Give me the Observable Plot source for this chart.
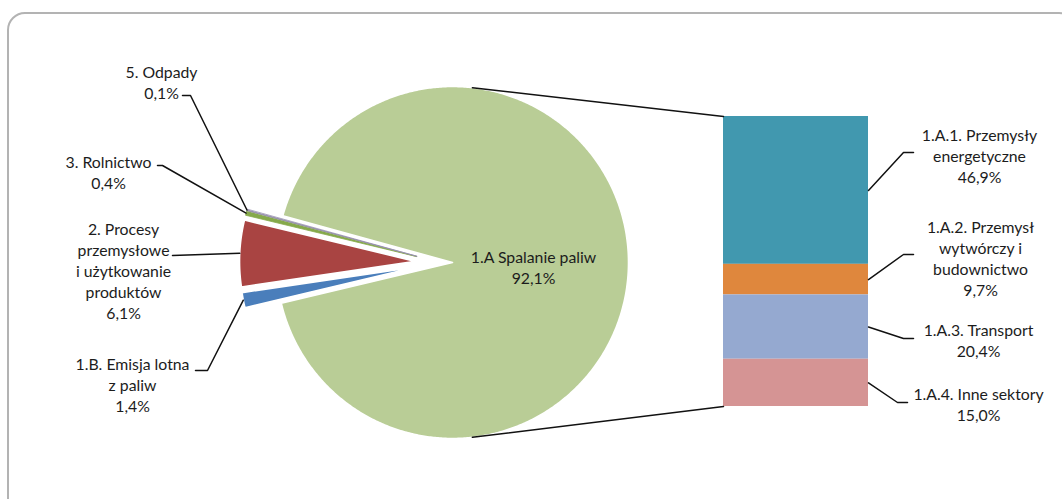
<!DOCTYPE html>
<html><head><meta charset="utf-8">
<script src="https://cdn.jsdelivr.net/npm/d3@7"></script>
<script src="https://cdn.jsdelivr.net/npm/@observablehq/plot@0.6"></script>
<style>
body{margin:0;background:#fff;}
#wrap{position:relative;width:1062px;height:499px;overflow:hidden;}
#frame{position:absolute;left:7px;top:12px;width:1070px;height:505px;border:2px solid #b3b3b3;border-radius:18px;box-sizing:border-box;pointer-events:none;}
</style></head><body>
<div id="wrap"><div id="chart"></div><div id="frame"></div></div>
<script>
// ---- data (pie in angular order, clockwise from the big slice) ----
const mainCategories = ["1.A Spalanie paliw", "1.B. Emisja lotna z paliw", "2. Procesy przemysłowe i użytkowanie produktów", "3. Rolnictwo", "5. Odpady"];
const mainValues = [92.1, 1.4, 6.1, 0.4, 0.1];
const mainLabelLines = ["1.A Spalanie paliw", "1.B. Emisja lotna\nz paliw", "2. Procesy\nprzemysłowe\ni użytkowanie\nproduktów", "3. Rolnictwo", "5. Odpady"];
const subCategories = ["1.A.1. Przemysły energetyczne", "1.A.2. Przemysł wytwórczy i budownictwo", "1.A.3. Transport", "1.A.4. Inne sektory"];
const subValues = [46.9, 9.7, 20.4, 15.0];
const subLabelLines = ["1.A.1. Przemysły\nenergetyczne", "1.A.2. Przemysł\nwytwórczy i\nbudownictwo", "1.A.3. Transport", "1.A.4. Inne sektory"];

// ---- styles ----
const mainColors = ["#b9cd96", "#4a7ebb", "#a94442", "#86a94b", "#968eae"];
const subColors = ["#4198af", "#df873d", "#95a9d0", "#d59494"];
const fontSize = 15.8;

// ---- layout ----
const W = 1062, H = 499;
const pie = {cx: 452, cy: 262, r: 176, rot: 1, ex: 37, ey: 24};
const bar = {x1: 723, x2: 868, top: 116, bottom: 406};
const connectorAngle = 83.5;
const mainLabelLayout = [
  {x: 533, y: 266},
  {x: 132, y: 384, path: [[195, 370], [207, 370]]},
  {x: 123, y: 270, path: [[172, 255]]},
  {x: 108, y: 171, path: [[157, 165], [162, 165]]},
  {x: 161, y: 81, path: [[182, 95], [190, 95]]}
];
const subLabelLayout = [
  {x: 979, y: 154.5, elbow: 903, ly: 152},
  {x: 980, y: 257.5, elbow: 903, ly: 254},
  {x: 978, y: 339.5, elbow: 903, ly: 338},
  {x: 978, y: 403, elbow: 897, ly: 402}
];

const fmt = v => d3.format(".1f")(v).replace(".", ",") + "%";
const total = d3.sum(subValues);
const k = (bar.bottom - bar.top) / total;
const Y = p => (p - bar.top) / k; // pixel row -> y-scale units
const deg = Math.PI / 180;

// ---- pie geometry ----
const sum = d3.sum(mainValues);
let acc = pie.rot - mainValues[0] / sum * 180;
const slices = mainValues.map((v, i) => {
  const a0 = acc, a1 = acc + v / sum * 360; acc = a1;
  const mid = (a0 + a1) / 2;
  const cx = pie.cx + (i ? pie.ex * Math.cos(mid * deg) : 0);
  const cy = pie.cy + (i ? pie.ey * Math.sin(mid * deg) : 0);
  const n = Math.max(2, Math.ceil((a1 - a0) / 0.5));
  const pts = [{x: cx, y: Y(cy)}];
  for (let j = 0; j <= n; j++) {
    const t = (a0 + (a1 - a0) * j / n) * deg;
    pts.push({x: cx + pie.r * Math.cos(t), y: Y(cy + pie.r * Math.sin(t))});
  }
  return {i, a0, a1, pts, thin: (a1 - a0) < 2,
    outer: [cx + pie.r * Math.cos(mid * deg), cy + pie.r * Math.sin(mid * deg)]};
});

const sliceMarks = slices.map(s => Plot.line(s.pts, {
  x: "x", y: "y", curve: "linear-closed", fill: mainColors[s.i],
  stroke: s.thin ? mainColors[s.i] : "white", strokeWidth: s.thin ? 0.8 : 1.6
}));

// ---- bar ----
const subData = subCategories.map((c, i) => ({category: c, value: subValues[i], color: subColors[i]}));
const cum = d3.cumsum(subValues);
const mids = subValues.map((v, i) => cum[i] - v / 2);

// ---- connectors pie -> bar ----
const conn = [];
[-1, 1].forEach(s => {
  const t = s * connectorAngle * deg;
  conn.push({id: s, x: pie.cx + pie.r * Math.cos(t), y: Y(pie.cy + pie.r * Math.sin(t))});
  conn.push({id: s, x: bar.x1, y: s < 0 ? 0 : total});
});

// ---- leaders ----
const leaders = [];
mainLabelLayout.forEach((L, i) => {
  if (!L.path) return;
  L.path.forEach(p => leaders.push({id: "m" + i, x: p[0], y: Y(p[1])}));
  leaders.push({id: "m" + i, x: slices[i].outer[0], y: Y(slices[i].outer[1])});
});
subLabelLayout.forEach((L, i) => {
  leaders.push({id: "s" + i, x: bar.x2, y: mids[i]});
  leaders.push({id: "s" + i, x: L.elbow, y: Y(L.ly)});
  leaders.push({id: "s" + i, x: L.elbow + 10, y: Y(L.ly)});
});

const labels = [
  ...mainLabelLayout.map((L, i) => ({x: L.x, y: Y(L.y), text: mainLabelLines[i] + "\n" + fmt(mainValues[i])})),
  ...subLabelLayout.map((L, i) => ({x: L.x, y: Y(L.y), text: subLabelLines[i] + "\n" + fmt(subValues[i])}))
];

const chart = Plot.plot({
  width: W, height: H, margin: 0,
  x: {domain: [0, W], range: [0, W], axis: null},
  y: {domain: [0, total], range: [bar.top, bar.bottom], axis: null},
  color: {type: "identity"},
  style: {fontFamily: "Lato, sans-serif", fontSize: fontSize + "px", background: "transparent", overflow: "visible"},
  marks: [
    ...sliceMarks,
    Plot.rect(subData, Plot.stackY({x1: bar.x1, x2: bar.x2, y: "value", fill: "color"})),
    Plot.line(conn, {x: "x", y: "y", z: "id", stroke: "#111", strokeWidth: 1.5}),
    Plot.line(leaders, {x: "x", y: "y", z: "id", stroke: "#111", strokeWidth: 1.5}),
    Plot.text(labels, {x: "x", y: "y", text: "text", fontSize, lineHeight: 21 / fontSize, fill: "#1c1c1c"})
  ]
});
document.getElementById("chart").appendChild(chart);
</script>
</body></html>
